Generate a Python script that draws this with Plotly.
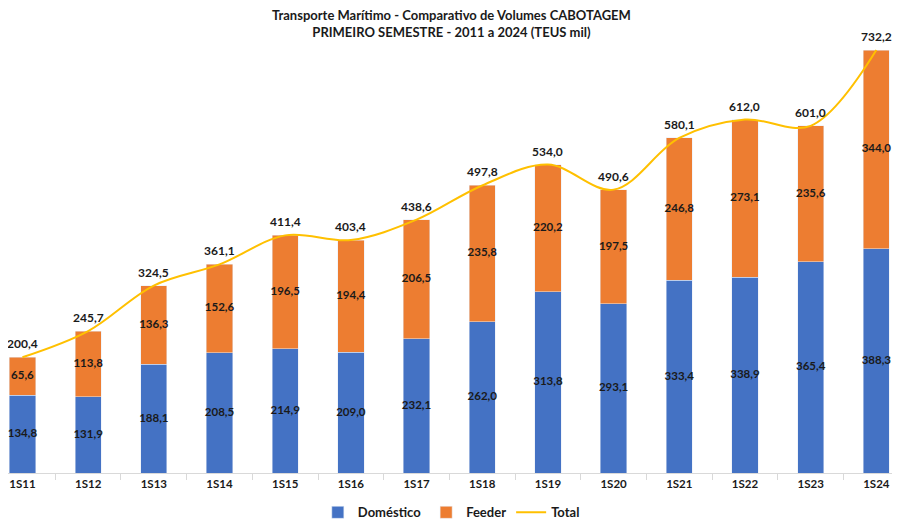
import plotly.graph_objects as go

categories = ["1S11", "1S12", "1S13", "1S14", "1S15", "1S16", "1S17",
              "1S18", "1S19", "1S20", "1S21", "1S22", "1S23", "1S24"]
domestico = [134.8, 131.9, 188.1, 208.5, 214.9, 209.0, 232.1,
             262.0, 313.8, 293.1, 333.4, 338.9, 365.4, 388.3]
feeder = [65.6, 113.8, 136.3, 152.6, 196.5, 194.4, 206.5,
          235.8, 220.2, 197.5, 246.8, 273.1, 235.6, 344.0]
total = [200.4, 245.7, 324.5, 361.1, 411.4, 403.4, 438.6,
         497.8, 534.0, 490.6, 580.1, 612.0, 601.0, 732.2]

FONT = "Lato"
BLUE = "#4472C4"
ORANGE = "#ED7D31"
GOLD = "#FFC000"
TXT = "#1a1a1a"


def fmt(v):
    return f"{v:.1f}".replace(".", ",")


fig = go.Figure()
fig.add_trace(go.Bar(x=categories, y=domestico, name="Doméstico",
                     marker_color=BLUE, width=0.4))
fig.add_trace(go.Bar(x=categories, y=feeder, name="Feeder",
                     marker_color=ORANGE, width=0.4))
fig.add_trace(go.Scatter(x=categories, y=total, name="Total", mode="lines",
                         line=dict(color=GOLD, width=2, shape="spline", smoothing=1)))

lab_font = dict(family=FONT, size=11.5, color=TXT, weight="bold")
fig.add_trace(go.Scatter(x=categories, y=[d / 2 for d in domestico], mode="text",
                         text=[fmt(v) for v in domestico], textfont=lab_font,
                         showlegend=False, hoverinfo="skip", cliponaxis=False))
fig.add_trace(go.Scatter(x=categories, y=[d + f / 2 for d, f in zip(domestico, feeder)],
                         mode="text", text=[fmt(v) for v in feeder], textfont=lab_font,
                         showlegend=False, hoverinfo="skip", cliponaxis=False))

for c, t in zip(categories, total):
    fig.add_annotation(x=c, y=t, text=fmt(t), showarrow=False,
                       xanchor="center", yanchor="bottom", yshift=4,
                       font=dict(family=FONT, size=12, color=TXT, weight="bold"))

fig.add_annotation(
    text="Transporte Marítimo - Comparativo de Volumes CABOTAGEM<br>PRIMEIRO SEMESTRE - 2011 a 2024 (TEUS mil)",
    xref="paper", yref="paper", x=0.497, y=1.05, xanchor="center", yanchor="middle",
    showarrow=False, align="center",
    font=dict(family=FONT, size=13, color=TXT, weight="bold"))

fig.update_layout(
    width=892, height=522,
    barmode="stack",
    paper_bgcolor="white", plot_bgcolor="white",
    margin=dict(l=0, r=0, t=37, b=57, autoexpand=False),
    separators=",.",
    font=dict(family=FONT, color=TXT),
    xaxis=dict(range=[-0.22, 13.36], showline=True, linecolor="#D9D9D9", linewidth=1,
               ticks="outside", tickson="boundaries", ticklen=6, tickcolor="#D9D9D9",
               tickfont=dict(family=FONT, size=11.5, color=TXT, weight="bold"),
               showgrid=False, fixedrange=True),
    yaxis=dict(range=[0, 741], visible=False, showgrid=False, fixedrange=True),
    legend=dict(orientation="h", x=0.497, xanchor="center", y=-0.092, yanchor="middle",
                font=dict(family=FONT, size=13, color=TXT, weight="bold"),
                traceorder="normal", itemwidth=30),
    showlegend=True,
)

fig.write_html("out.html")
